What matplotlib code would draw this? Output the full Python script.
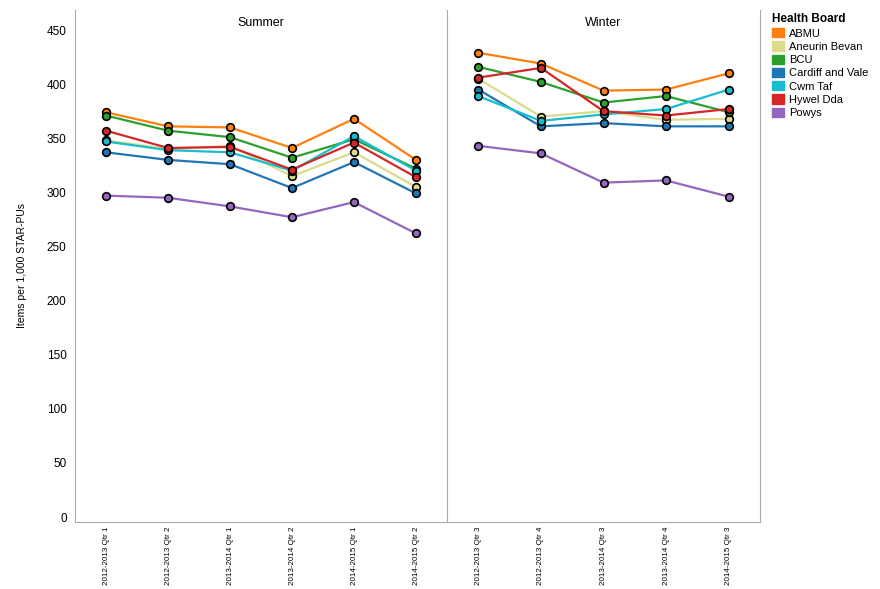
import matplotlib
matplotlib.use("Agg")
import matplotlib.pyplot as plt
from matplotlib.patches import Patch

summer_labels = ["2012-2013 Qtr 1","2012-2013 Qtr 2","2013-2014 Qtr 1","2013-2014 Qtr 2","2014-2015 Qtr 1","2014-2015 Qtr 2"]
winter_labels = ["2012-2013 Qtr 3","2012-2013 Qtr 4","2013-2014 Qtr 3","2013-2014 Qtr 4","2014-2015 Qtr 3"]
boards = ["ABMU","Aneurin Bevan","BCU","Cardiff and Vale","Cwm Taf","Hywel Dda","Powys"]
colors = ["#ff7f0e","#dbdb8d","#2ca02c","#1f77b4","#17becf","#d62728","#9467bd"]
summer = {
 "ABMU":[374,361,360,341,368,330],
 "Aneurin Bevan":[348,340,343,315,337,305],
 "BCU":[371,357,351,332,349,322],
 "Cardiff and Vale":[337,330,326,304,328,299],
 "Cwm Taf":[347,339,337,320,352,320],
 "Hywel Dda":[357,341,342,321,346,314],
 "Powys":[297,295,287,277,291,262],
}
winter = {
 "ABMU":[429,419,394,395,410],
 "Aneurin Bevan":[405,370,375,367,368],
 "BCU":[416,402,383,389,374],
 "Cardiff and Vale":[395,361,364,361,361],
 "Cwm Taf":[389,366,372,377,395],
 "Hywel Dda":[406,415,375,371,377],
 "Powys":[343,336,309,311,296],
}
plt.rcParams['font.family'] = ['Liberation Sans', 'DejaVu Sans']
fig = plt.figure(figsize=(8.8,5.89), dpi=100)
axL = fig.add_axes([75/880, 1-522/589, 372/880, 512/589])
axR = fig.add_axes([447/880, 1-522/589, 313/880, 512/589], sharey=axL)
for ax, labels, data, title in [(axL, summer_labels, summer, "Summer"), (axR, winter_labels, winter, "Winter")]:
    x = range(len(labels))
    for b, c in zip(boards, colors):
        ax.plot(x, data[b], color=c, lw=1.6, marker="o", ms=5.5, mec="black", mew=1.2, mfc=c, label=b)
    ax.set_xticks(list(x))
    ax.set_xticklabels(labels, rotation=90, fontsize=5.8)
    ax.set_xlim(-0.5, len(labels)-0.5)
    ax.text(0.5, 1-7/512, title, transform=ax.transAxes, ha="center", va="top", fontsize=9)
    for s in ["top","right"]:
        ax.spines[s].set_visible(False)
    ax.spines["left"].set_color("#aaaaaa")
    ax.spines["bottom"].set_color("#aaaaaa")
    ax.tick_params(colors="#555555", labelcolor="black", length=0)
axL.set_ylim(-4.6, 468.5)
axL.set_yticks(range(0, 451, 50))
axL.tick_params(axis="y", labelsize=8.5, pad=6)
axL.set_ylabel("Items per 1,000 STAR-PUs", fontsize=7.5, labelpad=14)
axR.tick_params(axis="y", labelleft=False)
axR.spines["right"].set_visible(True); axR.spines["right"].set_color("#aaaaaa")
fig.legend([Patch(color=c) for c in colors], boards, loc="upper left", bbox_to_anchor=(768/880, 1-9/589),
           frameon=False, fontsize=8, title="Health Board", title_fontproperties={"weight":"bold","size":8.5},
           handlelength=1.0, handleheight=0.9, labelspacing=0.25, alignment="left", borderaxespad=0, handletextpad=0.5)
fig.savefig("out.png", dpi=100)
